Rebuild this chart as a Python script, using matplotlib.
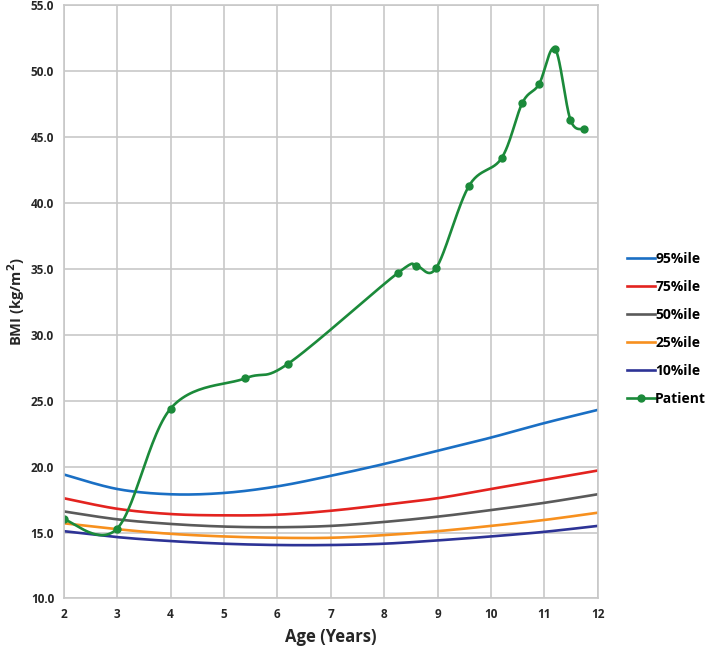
import numpy as np
import matplotlib
matplotlib.use("Agg")
import matplotlib.pyplot as plt

# percentile reference curves (read at whole years)
ages = [2, 3, 4, 5, 6, 7, 8, 9, 10, 11, 12]
p95 = [19.4, 18.3, 17.9, 18.0, 18.5, 19.3, 20.2, 21.2, 22.2, 23.3, 24.3]
p75 = [17.6, 16.8, 16.4, 16.3, 16.35, 16.65, 17.1, 17.6, 18.3, 19.0, 19.7]
p50 = [16.6, 16.0, 15.65, 15.45, 15.4, 15.5, 15.8, 16.2, 16.7, 17.25, 17.9]
p25 = [15.7, 15.25, 14.9, 14.7, 14.6, 14.6, 14.8, 15.1, 15.5, 15.95, 16.5]
p10 = [15.1, 14.65, 14.35, 14.15, 14.05, 14.05, 14.15, 14.4, 14.7, 15.05, 15.5]

# patient measurements
pat_age = [2.0, 3.0, 4.0, 5.4, 6.2, 8.26, 8.6, 8.98, 9.59, 10.2, 10.59, 10.9, 11.2, 11.49, 11.75]
pat_bmi = [16.0, 15.3, 24.4, 26.7, 27.8, 34.7, 35.2, 35.1, 41.3, 43.4, 47.6, 49.0, 51.7, 46.3, 45.6]

x_ticks = list(range(2, 13))
y_ticks = [10, 15, 20, 25, 30, 35, 40, 45, 50, 55]


def smooth(x, y, n=30):
    # excel style smoothed line (catmull-rom through the points)
    p = np.column_stack([x, y]).astype(float)
    p = np.vstack([p[0], p, p[-1]])
    out = []
    t = np.linspace(0, 1, n)[:, None]
    for i in range(1, len(p) - 2):
        p0, p1, p2, p3 = p[i - 1], p[i], p[i + 1], p[i + 2]
        c1 = p1 + (p2 - p0) / 6
        c2 = p2 - (p3 - p1) / 6
        seg = (1 - t) ** 3 * p1 + 3 * (1 - t) ** 2 * t * c1 + 3 * (1 - t) * t ** 2 * c2 + t ** 3 * p2
        out.append(seg if i == 1 else seg[1:])
    out = np.vstack(out)
    return out[:, 0], out[:, 1]


plt.rcParams['font.family'] = ['Open Sans', 'DejaVu Sans']
plt.rcParams['font.weight'] = 'bold'

fig = plt.figure(figsize=(7.09, 6.54), dpi=100)
ax = fig.add_axes([0.09, 0.085, 0.753, 0.907])

series = [("95%ile", p95, "#1a6fc4"),
          ("75%ile", p75, "#e3231f"),
          ("50%ile", p50, "#5a5a5a"),
          ("25%ile", p25, "#f7901e"),
          ("10%ile", p10, "#2d3396")]
for name, vals, col in series:
    sx, sy = smooth(ages, vals)
    ax.plot(sx, sy, color=col, lw=1.9, label=name)

sx, sy = smooth(pat_age, pat_bmi)
ax.plot(sx, sy, color="#1b8a3a", lw=1.9)
ax.plot(pat_age, pat_bmi, 'o', color="#1b8a3a", ms=5)
ax.plot([], [], color="#1b8a3a", lw=1.9, marker='o', ms=5, label="Patient")

ax.set_xlim(2, 12)
ax.set_ylim(10, 55)
ax.set_xticks(x_ticks)
ax.set_yticks(y_ticks)
ax.set_yticklabels(["%.1f" % v for v in y_ticks])
ax.grid(True, color="#c8c8c8", lw=1.2)
ax.set_axisbelow(True)
for s in ax.spines.values():
    s.set_color("#c8c8c8")
    s.set_linewidth(1.2)
ax.tick_params(length=0, labelsize=8.5, labelcolor="#262626", pad=7)
for lab in ax.get_xticklabels() + ax.get_yticklabels():
    lab.set_fontweight('bold')

ax.set_xlabel("Age (Years)", fontsize=12, fontweight='bold', color="#262626", labelpad=5)
ax.set_ylabel("BMI (kg/m$^\\mathbf{2}$)", fontsize=10.5, fontweight='bold', color="#262626", labelpad=3)

fig.legend(loc="center left", bbox_to_anchor=(0.885, 0.497), frameon=False,
           handlelength=2.0, handletextpad=0.0, labelspacing=1.0,
           prop={'weight': 'bold', 'size': 10}, borderpad=0, borderaxespad=0)

fig.savefig("out.png", dpi=100)
